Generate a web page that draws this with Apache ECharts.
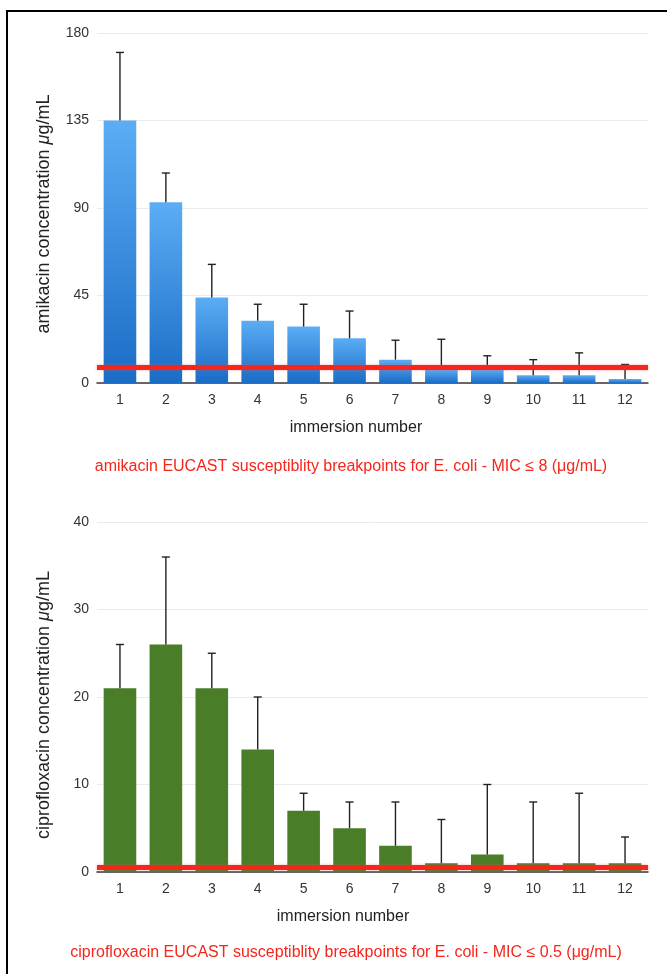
<!DOCTYPE html>
<html>
<head>
<meta charset="utf-8">
<script src="https://cdn.jsdelivr.net/npm/echarts@6/dist/echarts.min.js"></script>
<style>
html,body{margin:0;padding:0;background:#fff;}
#main{width:667px;height:974px;}
</style>
</head>
<body>
<div id="main"></div>
<script>
var categories = ['1','2','3','4','5','6','7','8','9','10','11','12'];
var amikacinMean = [135, 93, 44, 32, 29, 23, 12, 7, 7, 4, 4, 2];
var amikacinUpper = [170, 108, 61, 40.5, 40.5, 37, 22, 22.5, 14, 12, 15.5, 9.5];
var amikacinTicks = [0, 45, 90, 135, 180];
var amikacinBreakpoint = 8;
var ciproMean = [21, 26, 21, 14, 7, 5, 3, 1, 2, 1, 1, 1];
var ciproUpper = [26, 36, 25, 20, 9, 8, 8, 6, 10, 8, 9, 4];
var ciproTicks = [0, 10, 20, 30, 40];
var ciproBreakpoint = 0.5;

var FONT = '"Liberation Sans", Arial, Helvetica, sans-serif';
var chart = echarts.init(document.getElementById('main'));

function errData(mean, upper) {
  return mean.map(function (v, i) { return [i, v, upper[i]]; });
}
function renderErr(params, api) {
  var i = api.value(0);
  var p0 = api.coord([i, api.value(1)]);
  var p1 = api.coord([i, api.value(2)]);
  var cap = 4;
  var st = { stroke: '#222', lineWidth: 1.4 };
  return {
    type: 'group',
    children: [
      { type: 'line', shape: { x1: p0[0], y1: p0[1], x2: p1[0], y2: p1[1] }, style: st },
      { type: 'line', shape: { x1: p1[0] - cap, y1: p1[1], x2: p1[0] + cap, y2: p1[1] }, style: st }
    ]
  };
}
function xAxisCfg(gi) {
  return {
    type: 'category', gridIndex: gi, data: categories,
    axisTick: { show: false },
    axisLine: { lineStyle: { color: '#3a3a3a', width: 1.5 } },
    axisLabel: { color: '#333', fontSize: 14, fontFamily: FONT, margin: 10 }
  };
}
function yAxisCfg(gi, ticks, nameParts, pad) {
  return {
    type: 'value', gridIndex: gi,
    min: ticks[0], max: ticks[ticks.length - 1], interval: ticks[1] - ticks[0],
    name: nameParts, nameLocation: 'middle', nameGap: 44, nameRotate: 90,
    nameTextStyle: {
      color: '#222', fontSize: 18, fontFamily: FONT, padding: [0, pad, 0, 0],
      rich: {
        a: { color: '#222', fontSize: 18, fontFamily: FONT },
        i: { color: '#222', fontSize: 18, fontFamily: FONT, fontStyle: 'italic' }
      }
    },
    axisLine: { show: false }, axisTick: { show: false },
    axisLabel: { color: '#333', fontSize: 14, fontFamily: FONT, margin: 8 },
    splitLine: { lineStyle: { color: '#ebebeb', width: 1 } }
  };
}
function markLineCfg(v) {
  return {
    silent: true, symbol: 'none', label: { show: false },
    lineStyle: { color: '#f5261c', width: 5, type: 'solid', shadowColor: 'rgba(255,80,80,0.5)', shadowBlur: 3 },
    data: [{ yAxis: v }],
    z: 10
  };
}

var option = {
  animation: false,
  backgroundColor: '#fff',
  grid: [
    { left: 97, right: 19, top: 33, height: 350 },
    { left: 97, right: 19, top: 522, height: 350 }
  ],
  xAxis: [xAxisCfg(0), xAxisCfg(1)],
  yAxis: [
    yAxisCfg(0, amikacinTicks, '{a|amikacin concentration }{i|μ}{a|g/mL}', 12),
    yAxisCfg(1, ciproTicks, '{a|ciprofloxacin concentration }{i|μ}{a|g/mL}', 16)
  ],
  series: [
    {
      type: 'bar', xAxisIndex: 0, yAxisIndex: 0, data: amikacinMean, barWidth: '71%',
      itemStyle: {
        color: new echarts.graphic.LinearGradient(0, 0, 0, 1, [
          { offset: 0, color: '#5cadf5' }, { offset: 1, color: '#1a6cc6' }
        ], false)
      },
      markLine: markLineCfg(amikacinBreakpoint)
    },
    {
      type: 'custom', xAxisIndex: 0, yAxisIndex: 0, data: errData(amikacinMean, amikacinUpper),
      renderItem: renderErr, z: 5, silent: true
    },
    {
      type: 'bar', xAxisIndex: 1, yAxisIndex: 1, data: ciproMean, barWidth: '71%',
      itemStyle: { color: '#4a7d28' },
      markLine: markLineCfg(ciproBreakpoint)
    },
    {
      type: 'custom', xAxisIndex: 1, yAxisIndex: 1, data: errData(ciproMean, ciproUpper),
      renderItem: renderErr, z: 5, silent: true
    }
  ],
  graphic: [
    { type: 'rect', shape: { x: 7, y: 11, width: 700, height: 1000 }, style: { fill: 'none', stroke: '#000', lineWidth: 2 }, z: 100 },
    { type: 'text', x: 356, y: 428, style: { text: 'immersion number', fill: '#222', font: '16px ' + FONT, textAlign: 'center', textVerticalAlign: 'middle' } },
    { type: 'text', x: 351, y: 467, style: { text: 'amikacin EUCAST susceptiblity breakpoints for E. coli - MIC ≤ 8 (μg/mL)', fill: '#f5261c', font: '16px ' + FONT, textAlign: 'center', textVerticalAlign: 'middle' } },
    { type: 'text', x: 343, y: 917, style: { text: 'immersion number', fill: '#222', font: '16px ' + FONT, textAlign: 'center', textVerticalAlign: 'middle' } },
    { type: 'text', x: 346, y: 953, style: { text: 'ciprofloxacin EUCAST susceptiblity breakpoints for E. coli - MIC ≤ 0.5 (μg/mL)', fill: '#f5261c', font: '16px ' + FONT, textAlign: 'center', textVerticalAlign: 'middle' } }
  ]
};
chart.setOption(option);
</script>
</body>
</html>
